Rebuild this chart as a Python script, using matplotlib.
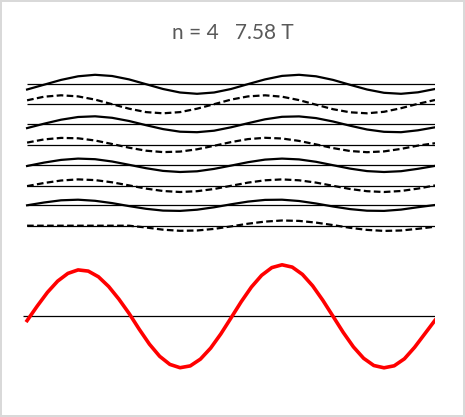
import numpy as np
import matplotlib.pyplot as plt

title = "n = 4   7.58 T"

# component waves: deviation from each baseline, 25 samples across the plot
wave1 = [-5.2, -0.4, 4.4, 8.0, 9.5, 8.3, 4.9, 0.1, -4.7, -8.2, -9.5, -8.2, -4.7,
         0.2, 4.9, 8.4, 9.5, 8.0, 4.4, -0.5, -5.2, -8.5, -9.5, -8.0, -4.7]
wave2 = [4.0, 7.6, 9.0, 7.9, 4.7, 0.1, -4.4, -7.8, -9.0, -7.8, -4.4, 0.1, 4.7,
         7.9, 9.0, 7.6, 4.2, -0.4, -4.9, -8.0, -9.0, -7.5, -3.9, 0.5, 4.3]
wave3 = [-3.8, 0.6, 4.6, 7.3, 8.0, 6.5, 3.3, -0.9, -4.8, -7.4, -7.9, -6.4, -3.0,
         1.1, 5.0, 7.5, 7.9, 6.2, 2.8, -1.4, -5.2, -7.5, -7.9, -6.0, -3.0]
wave4 = [2.4, 5.6, 7.1, 6.7, 4.5, 1.0, -2.7, -5.7, -7.1, -6.6, -4.3, -0.8, 2.9,
         5.9, 7.2, 6.5, 4.1, 0.6, -3.1, -6.0, -7.2, -6.4, -3.9, -0.6, 1.8]
wave5 = [-0.7, 2.7, 5.4, 6.7, 6.1, 3.8, 0.5, -2.9, -5.6, -6.7, -6.0, -3.6, -0.3,
         3.1, 5.7, 6.7, 5.9, 3.5, 0.1, -3.3, -5.8, -6.7, -5.9, -3.5, -0.6]
wave6 = [-0.4, 2.7, 5.2, 6.3, 5.6, 3.4, 0.3, -2.9, -5.3, -6.3, -5.5, -3.3, -0.1,
         3.1, 5.4, 6.3, 5.4, 3.1, -0.1, -3.3, -5.5, -6.3, -5.3, -2.9, 0.3]
wave7 = [0.0, 2.8, 5.0, 5.6, 4.5, 2.2, -0.8, -3.5, -5.3, -5.6, -4.4, -2.0, 1.0,
         3.7, 5.4, 5.6, 4.3, 1.8, -1.2, -3.8, -5.4, -5.6, -4.3, -1.9, 0.3]
wave8 = [0.0, 0.0, 0.0, 0.0, 0.0, 0.0, 0.0, -1.8, -4.0, -5.1, -4.8, -3.2, -0.7,
         2.0, 4.1, 5.2, 4.8, 3.1, 0.6, -2.1, -4.2, -5.2, -4.8, -3.1, -1.0]
waves = [wave1, wave2, wave3, wave4, wave5, wave6, wave7, wave8]

# resulting wave (red), 41 samples
total = [-4.3, 10.3, 24.0, 35.2, 42.9, 46.4, 45.2, 39.5, 29.8, 17.2, 2.9,
         -13.0, -27.9, -40.0, -48.1, -51.4, -49.6, -42.8, -31.8, -17.6, -1.6,
         14.6, 29.3, 41.0, 48.7, 51.5, 49.2, 41.9, 30.5, 16.0, 0.0,
         -16.1, -30.6, -42.0, -49.2, -51.5, -49.5, -42.5, -31.0, -17.5, -4.0]

baselines = [0, -20, -40, -60.7, -81, -101.4, -121, -141.4]
red_base = -232

fig = plt.figure(figsize=(4.65, 4.17), dpi=100)
fig.patch.set_edgecolor('#d9d9d9')
fig.patch.set_linewidth(1.5)
ax = fig.add_axes([23 / 465, 17 / 417, 412 / 465, 350 / 417])

x = np.arange(len(wave1))
xr = np.linspace(0, len(wave1) - 1, len(total))

for i, (w, b) in enumerate(zip(waves, baselines)):
    ax.hlines(b, 0, x[-1], color='black', lw=0.9, zorder=1)
    ls = '-' if i % 2 == 0 else (0, (3, 1.5))
    ax.plot(x, np.array(w) + b, color='black', lw=1.6, ls=ls, zorder=2)

ax.hlines(red_base, -0.24, x[-1], color='black', lw=0.9, zorder=1)
ax.plot(xr, np.array(total) + red_base, color='#ff0000', lw=2.6, zorder=3)

ax.set_xlim(-0.24, x[-1])
ax.set_ylim(-315.7, 34.3)
ax.axis('off')

fig.text(0.5, 1 - 33 / 417, title, ha='center', va='center',
         color='#595959', fontsize=15, family='Lato')

fig.savefig('out.png', dpi=100)
